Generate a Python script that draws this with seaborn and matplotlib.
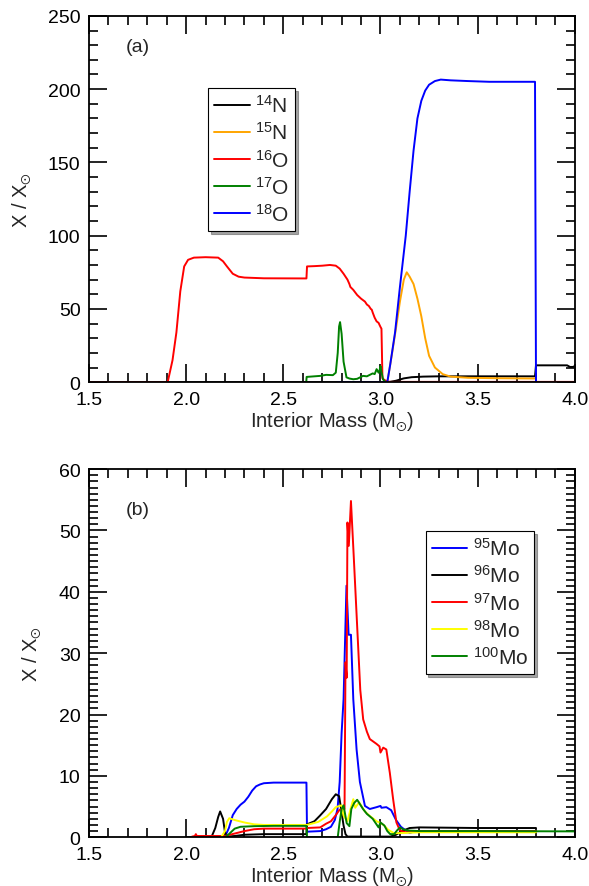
import matplotlib
matplotlib.use("Agg")
import matplotlib.pyplot as plt
from matplotlib.ticker import MultipleLocator
import seaborn as sns

# ---- Panel (a): light isotopes ----
n14_x = [1.5, 3.04, 3.08, 3.12, 3.16, 3.22, 3.30, 3.795, 3.80, 3.96, 3.975, 3.99, 4.0]
n14_y = [0, 0, 1.0, 2.6, 3.4, 3.8, 4.0, 4.0, 11.5, 11.5, 10.4, 10.4, 11.0]

n15_x = [3.035, 3.06, 3.08, 3.10, 3.12, 3.135, 3.15, 3.17, 3.19, 3.21, 3.23, 3.25,
         3.28, 3.32, 3.36, 3.45, 3.6, 3.8]
n15_y = [0, 20, 37, 55, 70, 75, 72, 67, 57, 45, 30, 18, 10, 5.5, 3.8, 3.0, 2.7, 2.5]

o16_x = [1.5, 1.905, 1.93, 1.95, 1.97, 1.99, 2.01, 2.04, 2.10, 2.165, 2.19, 2.21,
         2.24, 2.27, 2.30, 2.40, 2.619, 2.622, 2.66, 2.70, 2.74, 2.77, 2.79, 2.81,
         2.83, 2.84, 2.845, 2.86, 2.88, 2.90, 2.92, 2.93, 2.94, 2.95, 2.955, 2.96,
         2.97, 2.98, 2.99, 3.0, 3.005, 3.01, 3.02, 3.035, 3.05, 4.0]
o16_y = [0, 0, 15, 34, 62, 79, 83.5, 85, 85.3, 85, 82.5, 79, 74, 72, 71.4, 70.9,
         70.8, 79, 79.2, 79.5, 80, 79.5, 77.5, 74, 70, 67, 65, 63, 59.5, 57, 55,
         53, 52, 50, 49.5, 47.5, 44, 41.5, 40.5, 37.7, 36.5, 2.7, 1.5, 0.5, 0.2, 0.2]

o17_x = [2.618, 2.62, 2.66, 2.69, 2.72, 2.755, 2.77, 2.78, 2.787, 2.792, 2.80,
         2.81, 2.825, 2.84, 2.86, 2.88, 2.91, 2.93, 2.96, 2.97, 2.98, 2.99, 2.995,
         3.0, 3.005, 3.013, 3.02, 3.03]
o17_y = [0, 3.6, 4.0, 4.3, 5.0, 4.8, 6.5, 20, 38, 41, 33, 14, 3.3, 2.5, 2.0, 2.3,
         4.3, 4.0, 6.0, 5.5, 8.9, 6.5, 8.0, 11, 7.0, 2.0, 0.8, 0]

o18_x = [2.78, 3.035, 3.05, 3.075, 3.10, 3.13, 3.15, 3.17, 3.19, 3.21, 3.23,
         3.25, 3.28, 3.31, 3.36, 3.45, 3.56, 3.787, 3.795, 3.80]
o18_y = [0, 0, 12, 34, 65, 100, 130, 158, 180, 192, 199, 203, 205.5, 206.5,
         206, 205.5, 205, 205, 205, 0]

# ---- Panel (b): molybdenum isotopes ----
mo95_x = [2.19, 2.20, 2.22, 2.24, 2.26, 2.28, 2.30, 2.32, 2.34, 2.36, 2.38, 2.40,
          2.45, 2.619, 2.622, 2.69, 2.72, 2.745, 2.765, 2.779, 2.79, 2.80, 2.81,
          2.825, 2.836, 2.848, 2.86, 2.877, 2.894, 2.92, 2.945, 2.98, 3.0, 3.005,
          3.03, 3.055, 3.08, 3.105, 3.13, 3.15, 3.17, 3.2, 3.8]
mo95_y = [0, 0.1, 1.5, 3.6, 4.6, 5.3, 5.8, 6.6, 7.6, 8.3, 8.6, 8.8, 8.9, 8.9,
          0.9, 1.0, 1.3, 1.7, 2.8, 4.6, 9.0, 17, 22.5, 41, 33, 33, 22.5, 14.3,
          9.0, 5.1, 4.6, 4.9, 5.1, 4.8, 4.9, 4.4, 2.8, 1.7, 1.1, 0.7, 0.9, 1.0, 1.0]

mo96_x = [2.0, 2.13, 2.15, 2.165, 2.175, 2.19, 2.20, 2.21, 2.25, 2.30, 2.40,
          2.50, 2.619, 2.622, 2.66, 2.688, 2.72, 2.75, 2.77, 2.787, 2.795, 2.81,
          2.82, 2.83, 3.05, 3.08, 3.11, 3.15, 3.2, 3.5, 3.8]
mo96_y = [0, 0, 1.5, 3.3, 4.2, 3.0, 0.8, 0.1, 0.2, 0.4, 0.5, 0.5, 0.5, 2.1, 2.6,
          3.5, 4.6, 6.2, 7.0, 6.7, 5.1, 1.9, 0.5, 0.1, 0.1, 0.4, 1.0, 1.5, 1.6,
          1.5, 1.5]

mo97_x = [2.03, 2.045, 2.05, 2.055, 2.07, 2.20, 2.25, 2.30, 2.35, 2.40, 2.619,
          2.622, 2.69, 2.72, 2.745, 2.77, 2.79, 2.81, 2.815, 2.82, 2.826, 2.83,
          2.837, 2.848, 2.862, 2.879, 2.896, 2.911, 2.93, 2.945, 2.98, 2.995,
          3.0, 3.014, 3.03, 3.048, 3.065, 3.082, 3.10, 3.13, 3.2, 3.8]
mo97_y = [0.1, 0.2, 0.5, 0.2, 0.2, 0.2, 0.6, 1.0, 1.3, 1.4, 1.4, 1.5, 1.6, 2.2,
          2.6, 3.6, 4.5, 4.6, 4.6, 28.5, 26, 51.3, 47.5, 54.8, 46, 35, 24, 19.2,
          17.2, 16.0, 15.2, 14.8, 13.8, 14.6, 14.3, 10.5, 6.2, 2.4, 1.1, 0.8,
          1.0, 1.0]

mo98_x = [2.18, 2.20, 2.21, 2.222, 2.25, 2.30, 2.35, 2.40, 2.50, 2.619, 2.622,
          2.68, 2.725, 2.75, 2.77, 2.80, 2.81, 2.83, 2.845, 2.86, 2.87, 2.89,
          2.92, 2.94, 2.96, 2.98, 3.0, 3.016, 3.04, 3.07, 3.13, 3.2, 3.8]
mo98_y = [0, 1.0, 2.5, 3.1, 2.8, 2.4, 2.1, 2.0, 2.0, 2.0, 2.0, 2.5, 3.4, 4.2,
          4.9, 5.2, 3.5, 2.6, 4.5, 6.2, 4.8, 5.7, 4.2, 3.6, 3.1, 2.6, 2.3, 2.0,
          1.2, 0.65, 0.7, 0.8, 0.8]

mo100_x = [2.20, 2.22, 2.25, 2.28, 2.35, 2.45, 2.619, 2.622, 2.78, 2.79, 2.80,
           2.81, 2.826, 2.84, 2.85, 2.865, 2.88, 2.91, 2.93, 2.96, 2.99, 3.0,
           3.02, 3.035, 3.05, 3.07, 3.085, 3.10, 3.115, 3.14, 3.2, 3.5, 4.0]
mo100_y = [0, 0.5, 1.4, 1.7, 1.8, 1.85, 1.85, 0, 0, 2.5, 4.6, 5.2, 2.3, 1.8,
           4.6, 5.6, 6.1, 4.6, 3.8, 3.0, 1.6, 2.4, 1.9, 1.0, 0.5, 0.5, 1.1, 1.6,
           1.3, 1.1, 1.0, 1.0, 0.95]

series_a = [
    ("$^{14}$N", n14_x, n14_y, "black"),
    ("$^{15}$N", n15_x, n15_y, "#ffa500"),
    ("$^{16}$O", o16_x, o16_y, "#ff0000"),
    ("$^{17}$O", o17_x, o17_y, "#008000"),
    ("$^{18}$O", o18_x, o18_y, "#0000ff"),
]
series_b = [
    ("$^{95}$Mo", mo95_x, mo95_y, "#0000ff"),
    ("$^{96}$Mo", mo96_x, mo96_y, "black"),
    ("$^{97}$Mo", mo97_x, mo97_y, "#ff0000"),
    ("$^{98}$Mo", mo98_x, mo98_y, "#ffff00"),
    ("$^{100}$Mo", mo100_x, mo100_y, "#008000"),
]

sns.set_style("ticks")
plt.rcParams["font.family"] = ["Liberation Sans", "DejaVu Sans"]
plt.rcParams["mathtext.fontset"] = "custom"
plt.rcParams["mathtext.rm"] = "Liberation Sans"
plt.rcParams["mathtext.it"] = "Liberation Sans"
plt.rcParams["mathtext.fallback"] = "stixsans"

fig = plt.figure(figsize=(5.89, 8.87), dpi=100)
ax_a = fig.add_axes([0.151, 0.568, 0.825, 0.413])
ax_b = fig.add_axes([0.151, 0.055, 0.825, 0.415])


def draw(ax, series, ymax, ymajor, yminor, tag, leg_anchor):
    for label, xs, ys, color in series:
        sns.lineplot(x=xs, y=ys, ax=ax, color=color, label=label, lw=1.4,
                     estimator=None, sort=False)
    ax.set_xlim(1.5, 4.0)
    ax.set_ylim(0, ymax)
    ax.xaxis.set_major_locator(MultipleLocator(0.5))
    ax.xaxis.set_minor_locator(MultipleLocator(0.1))
    ax.yaxis.set_major_locator(MultipleLocator(ymajor))
    ax.yaxis.set_minor_locator(MultipleLocator(yminor))
    ax.set_xticks([1.5, 2.0, 2.5, 3.0, 3.5, 4.0])
    ax.set_xticklabels(["1.5", "2.0", "2.5", "3.0", "3.5", "4.0"])
    ax.tick_params(which="both", direction="in", top=True, right=True,
                   width=1.2, labelsize=14, colors="black")
    ax.tick_params(axis="x", which="major", length=13, pad=6)
    ax.tick_params(axis="y", which="major", length=13, pad=6)
    ax.tick_params(which="minor", length=6.5)
    for sp in ax.spines.values():
        sp.set_linewidth(1.3)
        sp.set_color("black")
    ax.set_xlabel(r"Interior Mass (M$_{\odot}$)", fontsize=14.5, labelpad=1)
    ax.set_ylabel(r"X / X$_{\odot}$", fontsize=14.5, labelpad=11)
    ax.text(0.076, tag[1], tag[0], transform=ax.transAxes, fontsize=14,
            va="center", ha="left")
    leg = ax.legend(loc="upper left", bbox_to_anchor=leg_anchor,
                    borderaxespad=0, fontsize=15, frameon=True, fancybox=False,
                    shadow=True, framealpha=1, edgecolor="black",
                    handlelength=1.7, handletextpad=0.25, labelspacing=0.25,
                    borderpad=0.3)
    leg.get_frame().set_linewidth(0.8)
    for line in leg.get_lines():
        line.set_linewidth(1.4)


draw(ax_a, series_a, 250, 50, 10, ("(a)", 0.915), (0.245, 0.803))
draw(ax_b, series_b, 60, 10, 1, ("(b)", 0.891), (0.693, 0.832))

fig.savefig("out.png", dpi=100)
